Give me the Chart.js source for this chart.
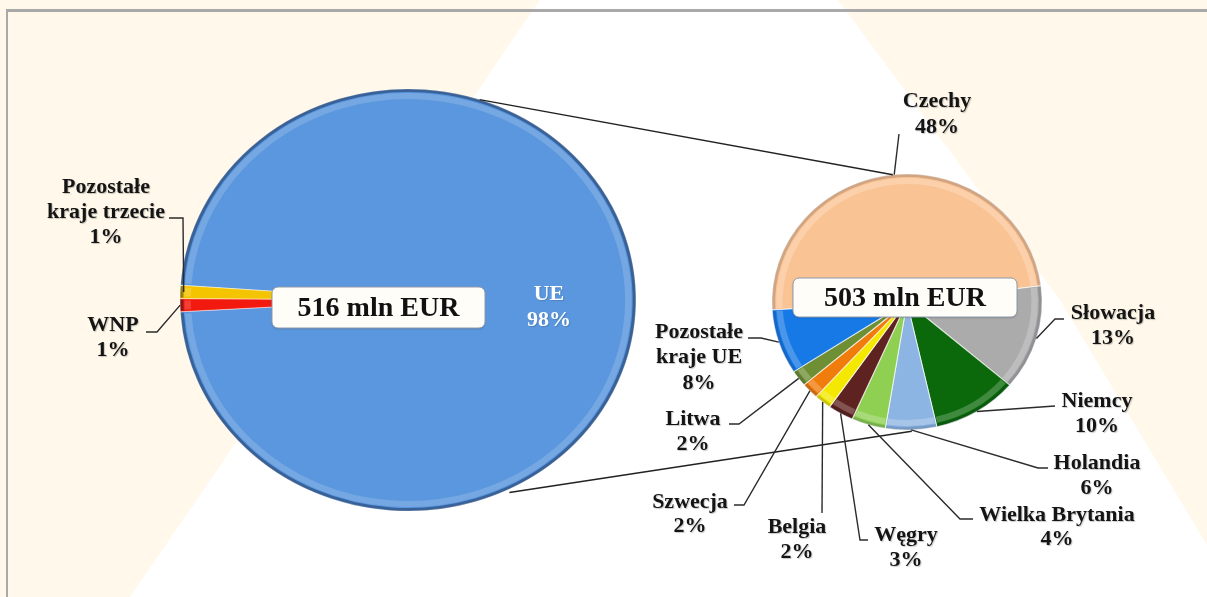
<!DOCTYPE html>
<html><head><meta charset="utf-8">
<script src="https://cdn.jsdelivr.net/npm/chart.js@4.4.1/dist/chart.umd.min.js"></script>
<style>
html,body{margin:0;padding:0;width:1207px;height:597px;overflow:hidden;background:#FFF8EB;}
#bg{position:absolute;left:0;top:0;width:1207px;height:597px;background:#ffffff;
 clip-path:polygon(540px 0,838px 0,1060px 300px,1207px 545px,1207px 597px,130px 597px);}
#frame{position:absolute;left:6px;top:9px;width:1201px;height:588px;border-top:3px solid #A9A9A9;border-left:2px solid #A9A9A9;box-sizing:border-box;}
canvas{position:absolute;left:0;top:0;}
</style></head><body>
<div id="bg"></div><div id="frame"></div>
<canvas id="c1" width="1207" height="597"></canvas>
<canvas id="c2" width="1207" height="597"></canvas>
<script>
// ---- data ----
const leftLabels = ['UE', 'WNP', 'Pozostałe kraje trzecie'];
const leftValues = [98, 1, 1];
const leftTotal = 516;
const rightLabels = ['Czechy', 'Słowacja', 'Niemcy', 'Holandia', 'Wielka Brytania', 'Węgry', 'Belgia', 'Szwecja', 'Litwa', 'Pozostałe kraje UE'];
const rightValues = [48, 13, 10, 6, 4, 3, 2, 2, 2, 8];
const rightTotal = 503;
const unit = 'mln EUR';

// ---- styles / layout ----
const leftColors = ['#5B97DE', '#F21A0E', '#F5C400'];
const rightColors = ['#FAC393', '#ABABAB', '#0B690B', '#8DB5E3', '#8FD053', '#5E2320', '#F4E800', '#F07C0C', '#6F8F35', '#1679E6'];
const FONT = 'bold 22px "Liberation Serif", "DejaVu Serif", serif';
const BIGFONT = 'bold 28px "Liberation Serif", "DejaVu Serif", serif';

const leftLayout = [
  {cx:549, y:294, lh:26, color:'#FFFFFF', leader:null},
  {cx:113, y:325, lh:25, leader:[[146,332],[157,332]]},
  {cx:106, y:187, lh:25, split:1, leader:[[169,218],[183,218]], af:0.985}
];
const rightLayout = [
  {cx:937, y:101, lh:26, leader:[[899,134]]},
  {cx:1113, y:313, lh:25, leader:[[1064,319],[1055,319]]},
  {cx:1097, y:401, lh:25, leader:[[1055,406]]},
  {cx:1097, y:463, lh:25, leader:[[1048,468],[1038,468]]},
  {cx:1057, y:515, lh:24, leader:[[973,519],[960,519]]},
  {cx:906, y:535, lh:25, leader:[[868,540],[860,540]]},
  {cx:797, y:527, lh:25, leader:[[822,513]]},
  {cx:690, y:502, lh:24, leader:[[734,505],[744,505]]},
  {cx:693, y:419, lh:25, leader:[[729,424],[739,424]]},
  {cx:699, y:332, lh:25.5, split:1, leader:[[748,338],[761,338]]}
];

function anchor(a, sx, f){
  const mid = (a.startAngle + a.endAngle) / 2;
  const r = a.outerRadius * (f || 1);
  return [a.x + sx * r * Math.cos(mid), a.y + r * Math.sin(mid)];
}

const ellipsePlugin = {
  id: 'ellipse',
  beforeDatasetsDraw(chart, args, opts){
    const a = chart.getDatasetMeta(0).data[0];
    const ctx = chart.ctx;
    ctx.save();
    ctx.translate(a.x, a.y); ctx.scale(opts.sx, 1); ctx.translate(-a.x, -a.y);
  },
  afterDatasetsDraw(chart, args, opts){
    const ctx = chart.ctx;
    chart.getDatasetMeta(0).data.forEach(a => {
      ctx.beginPath();
      ctx.arc(a.x, a.y, a.outerRadius - 1.5, a.startAngle + 0.004, a.endAngle - 0.004);
      ctx.strokeStyle = 'rgba(0,10,40,' + opts.rim + ')'; ctx.lineWidth = 3; ctx.stroke();
      ctx.beginPath();
      ctx.arc(a.x, a.y, a.outerRadius - 7, a.startAngle + 0.01, a.endAngle - 0.01);
      ctx.strokeStyle = 'rgba(255,255,255,' + opts.hl + ')'; ctx.lineWidth = 6; ctx.stroke();
    });
    ctx.restore();
  }
};

function drawLabels(chart, labels, values, layout, sx){
  const ctx = chart.ctx;
  const arcs = chart.getDatasetMeta(0).data;
  ctx.save();
  ctx.lineWidth = 1.4; ctx.strokeStyle = '#2b2b2b';
  layout.forEach((L, i) => {
    if (L.leader){
      const p = anchor(arcs[i], sx, L.af);
      ctx.beginPath();
      ctx.moveTo(L.leader[0][0], L.leader[0][1]);
      for (let k = 1; k < L.leader.length; k++) ctx.lineTo(L.leader[k][0], L.leader[k][1]);
      ctx.lineTo(p[0], p[1]);
      ctx.stroke();
    }
  });
  ctx.font = FONT; ctx.textAlign = 'center'; ctx.textBaseline = 'middle';
  layout.forEach((L, i) => {
    const words = labels[i].split(' ');
    const lines = L.split ? [words.slice(0, L.split).join(' '), words.slice(L.split).join(' ')] : [labels[i]];
    lines.push(values[i] + '%');
    ctx.fillStyle = L.color || '#141414';
    ctx.shadowColor = L.color ? 'rgba(0,0,0,0.15)' : 'rgba(0,0,0,0.22)';
    ctx.shadowOffsetX = 1; ctx.shadowOffsetY = 1; ctx.shadowBlur = 1;
    lines.forEach((t, k) => ctx.fillText(t, L.cx, L.y + k * L.lh));
  });
  ctx.restore();
}

function drawTotal(chart, box, text){
  const ctx = chart.ctx;
  ctx.save();
  ctx.beginPath();
  ctx.roundRect(box[0], box[1], box[2], box[3], 6);
  ctx.fillStyle = '#FFFDF8';
  ctx.shadowColor = 'rgba(0,0,0,0.2)'; ctx.shadowBlur = 2; ctx.shadowOffsetY = 1;
  ctx.fill();
  ctx.shadowColor = 'transparent';
  ctx.strokeStyle = '#8F9BAD'; ctx.lineWidth = 1; ctx.stroke();
  ctx.font = BIGFONT; ctx.fillStyle = '#111'; ctx.textAlign = 'center'; ctx.textBaseline = 'middle';
  ctx.fillText(text, box[0] + box[2] / 2, box[1] + box[3] / 2 + 1);
  ctx.restore();
}

const SX1 = 1.08, SX2 = 1.055;

const chart1 = new Chart(document.getElementById('c1'), {
  type: 'pie',
  data: { labels: leftLabels, datasets: [{ data: leftValues, backgroundColor: leftColors,
    borderColor: 'rgba(255,255,255,0.45)', borderWidth: 1, hoverOffset: 0 }] },
  options: {
    responsive: false, animation: false, events: [],
    rotation: 274, radius: 211,
    layout: { padding: { left: 188, right: 579, top: 80, bottom: 77 } },
    plugins: { legend: { display: false }, tooltip: { enabled: false }, ellipse: { sx: SX1, rim: 0.38, hl: 0.16 } }
  },
  plugins: [ellipsePlugin, {
    id: 'labels1',
    afterDraw(chart){
      drawTotal(chart, [272, 287, 213, 41], leftTotal + ' ' + unit);
      drawLabels(chart, leftLabels, leftValues, leftLayout, SX1);
    }
  }]
});

const chart2 = new Chart(document.getElementById('c2'), {
  type: 'pie',
  data: { labels: rightLabels, datasets: [{ data: rightValues, backgroundColor: rightColors,
    borderColor: 'rgba(255,255,255,0.7)', borderWidth: 1, hoverOffset: 0 }] },
  options: {
    responsive: false, animation: false, events: [],
    rotation: -93.6, radius: 128,
    layout: { padding: { left: 757, right: 150, top: 152, bottom: 145 } },
    plugins: { legend: { display: false }, tooltip: { enabled: false }, ellipse: { sx: SX2, rim: 0.16, hl: 0.22 } }
  },
  plugins: [ellipsePlugin, {
    id: 'labels2',
    afterDraw(chart){
      const ctx = chart.ctx;
      // pie-of-pie connector lines
      const a1 = chart1.getDatasetMeta(0).data[0];
      const a2 = chart.getDatasetMeta(0).data[0];
      const R1 = a1.outerRadius, R2 = a2.outerRadius;
      const pt = (a, sx, R, deg, f) => [a.x + sx * R * f * Math.cos(deg * Math.PI / 180), a.y + R * f * Math.sin(deg * Math.PI / 180)];
      const l1 = pt(a1, SX1, R1, -71.7, 1), r1 = pt(a2, SX2, R2, -96, 1);
      const l2 = pt(a1, SX1, R1, 64, 1.015), r2 = pt(a2, SX2, R2, 88, 1.01);
      ctx.save();
      ctx.strokeStyle = '#222'; ctx.lineWidth = 1.4;
      ctx.beginPath(); ctx.moveTo(l1[0], l1[1]); ctx.lineTo(r1[0], r1[1]); ctx.stroke();
      ctx.beginPath(); ctx.moveTo(l2[0], l2[1]); ctx.lineTo(r2[0], r2[1]); ctx.stroke();
      ctx.restore();
      drawTotal(chart, [793, 278, 224, 39], rightTotal + ' ' + unit);
      drawLabels(chart, rightLabels, rightValues, rightLayout, SX2);
    }
  }]
});
</script></body></html>
